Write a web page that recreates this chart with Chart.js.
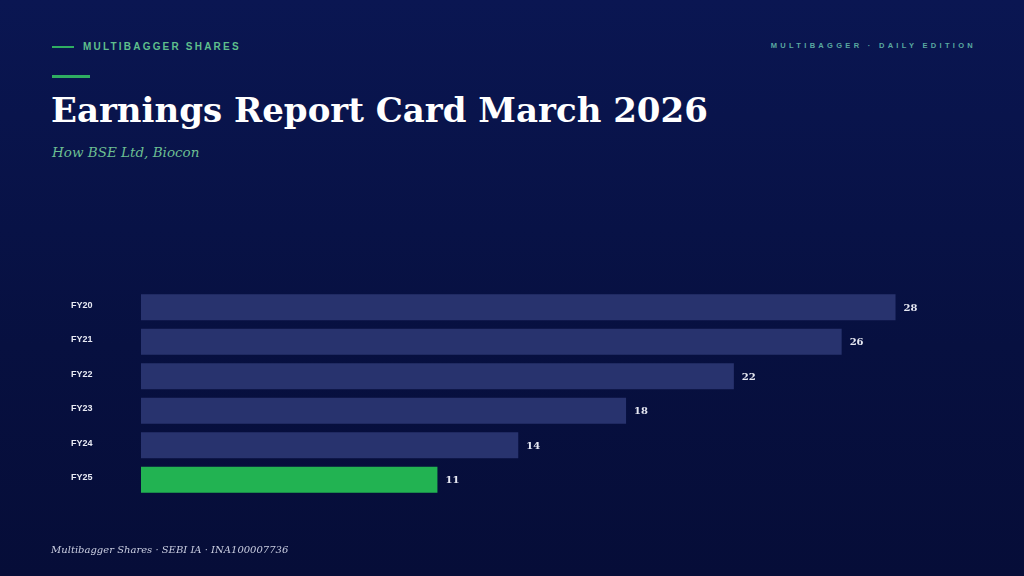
<!DOCTYPE html>
<html>
<head>
<meta charset="utf-8">
<script src="https://cdn.jsdelivr.net/npm/chart.js@4.4.1/dist/chart.umd.min.js"></script>
<style>
  html, body { margin: 0; padding: 0; }
  body {
    width: 1024px; height: 576px; overflow: hidden; position: relative;
    background: linear-gradient(180deg, #0a1652 0%, #071040 60%, #060d38 100%);
    font-family: "Liberation Sans", Arial, sans-serif;
  }
  .rule1 { position: absolute; left: 52px; top: 46px; width: 22px; height: 2px; background: #2fae62; }
  .kicker { position: absolute; left: 83px; top: 41px; font-size: 10px; font-weight: bold; letter-spacing: 2.2px; color: #5fbf8c; }
  .edition { position: absolute; right: 48px; top: 41px; font-size: 7.5px; font-weight: bold; letter-spacing: 3.3px; color: #5aa9a0; }
  .rule2 { position: absolute; left: 52px; top: 75px; width: 38px; height: 3px; background: #2fae62; }
  h1 { position: absolute; left: 51px; top: 90px; margin: 0; font-family: Georgia, "DejaVu Serif", serif; font-weight: bold; font-size: 34px; color: #ffffff; white-space: nowrap; }
  .sub { position: absolute; left: 52px; top: 144px; font-family: Georgia, "DejaVu Serif", serif; font-style: italic; font-size: 13.5px; color: #6cbf92; }
  .foot { position: absolute; left: 51px; top: 544px; font-family: Georgia, "DejaVu Serif", serif; font-style: italic; font-size: 10px; color: #c9cde0; }
  #chartBox { position: absolute; left: 0; top: 0; width: 1024px; height: 576px; }
</style>
</head>
<body>
<div class="rule1"></div>
<div class="kicker">MULTIBAGGER SHARES</div>
<div class="edition">MULTIBAGGER · DAILY EDITION</div>
<div class="rule2"></div>
<h1>Earnings Report Card March 2026</h1>
<div class="sub">How BSE Ltd, Biocon</div>
<div id="chartBox"><canvas id="chart"></canvas></div>
<div class="foot">Multibagger Shares · SEBI IA · INA100007736</div>

<script>
// data
var years = ['FY20', 'FY21', 'FY22', 'FY23', 'FY24', 'FY25'];
var values = [28, 26, 22, 18, 14, 11];
var highlightYear = 'FY25';

var barColors = years.map(function(y) {
  return y === highlightYear ? '#22b352' : '#28336e';
});

// value labels at the end of each bar
var valueLabels = {
  id: 'valueLabels',
  afterDatasetsDraw: function(chart) {
    var ctx = chart.ctx;
    var meta = chart.getDatasetMeta(0);
    ctx.save();
    ctx.font = 'bold 10px Georgia, "DejaVu Serif", serif';
    ctx.fillStyle = '#e6e8f2';
    ctx.textAlign = 'left';
    ctx.textBaseline = 'middle';
    meta.data.forEach(function(bar, i) {
      ctx.fillText(values[i], bar.x + 8, bar.y + 1);
    });
    ctx.restore();
  }
};

var ctx = document.getElementById('chart').getContext('2d');
var chart = new Chart(ctx, {
  type: 'bar',
  data: {
    labels: years,
    datasets: [{
      data: values,
      backgroundColor: barColors,
      borderWidth: 0,
      barPercentage: 0.75,
      categoryPercentage: 1.0
    }]
  },
  options: {
    indexAxis: 'y',
    responsive: true,
    maintainAspectRatio: false,
    animation: false,
    layout: { padding: { left: 71, top: 290, right: 53, bottom: 79 } },
    plugins: { legend: { display: false }, tooltip: { enabled: false } },
    scales: {
      x: {
        min: 0,
        max: 30.8,
        display: false
      },
      y: {
        grid: { display: false },
        border: { display: false },
        afterFit: function(axis) { axis.width = 70; },
        ticks: {
          crossAlign: 'far',
          color: '#e8eaf4',
          labelOffset: -2,
          font: { family: '"Liberation Sans", Arial, sans-serif', size: 9, weight: 'bold' }
        }
      }
    }
  },
  plugins: [valueLabels]
});
</script>
</body>
</html>
